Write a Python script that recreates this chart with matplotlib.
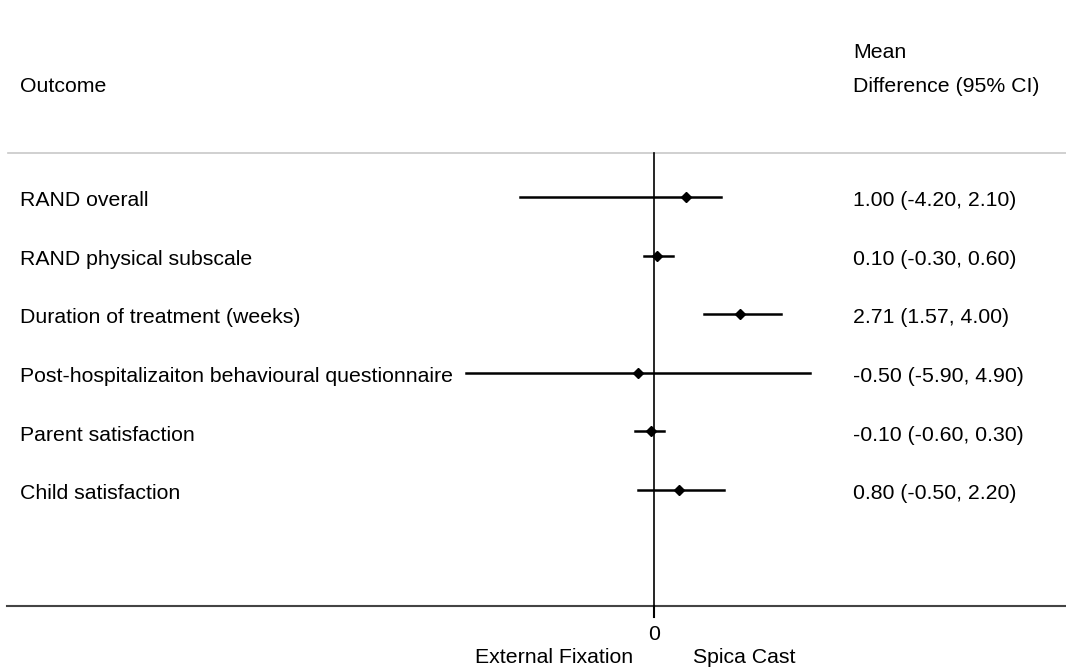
import matplotlib.pyplot as plt
import matplotlib.transforms as mtransforms

plt.rcParams['font.family'] = ['Liberation Sans', 'DejaVu Sans']

outcomes = ['RAND overall', 'RAND physical subscale', 'Duration of treatment (weeks)',
            'Post-hospitalizaiton behavioural questionnaire', 'Parent satisfaction',
            'Child satisfaction']
md = [1.00, 0.10, 2.71, -0.50, -0.10, 0.80]
lo = [-4.20, -0.30, 1.57, -5.90, -0.60, -0.50]
hi = [2.10, 0.60, 4.00, 4.90, 0.30, 2.20]

W, H = 1066, 669
fig = plt.figure(figsize=(W / 100, H / 100), dpi=100)
ax = fig.add_axes([0, 0, 1, 1])
ax.set_axis_off()

# x in effect units (0 at px 654, ~31.8 px per unit), y in pixels from top
scale = 31.8
x0 = 654
ax.set_xlim(-x0 / scale, (W - x0) / scale)
ax.set_ylim(H, 0)

row_y = [197 + i * 58.6 for i in range(len(outcomes))]
fs = 15.3
base = 9.2  # baseline offset below row centre

left = mtransforms.blended_transform_factory(fig.transFigure, ax.transData)
xl = 20 / W
xr = 853 / W

# header
ax.text(xr, 58, 'Mean', transform=left, fontsize=fs, va='baseline', ha='left')
ax.text(xl, 92, 'Outcome', transform=left, fontsize=fs, va='baseline', ha='left')
ax.text(xr, 92, 'Difference (95% CI)', transform=left, fontsize=fs, va='baseline', ha='left')

# separators
ax.plot([8 / W, 1], [153, 153], transform=left, color='#c8c8c8', lw=1.2, clip_on=False)
ax.plot([7 / W, 1], [606, 606], transform=left, color='#444444', lw=1.5, clip_on=False)

# null line and tick
ax.plot([0, 0], [153, 606], color='black', lw=1.2)
ax.plot([0, 0], [606, 617], color='black', lw=1.5)
ax.text(0, 640.5, '0', fontsize=fs, ha='center', va='baseline')
ax.text(-0.66, 663, 'External Fixation', fontsize=fs, ha='right', va='baseline')
ax.text(1.23, 663, 'Spica Cast', fontsize=fs, ha='left', va='baseline')

for i, name in enumerate(outcomes):
    y = row_y[i]
    ax.text(xl, y + base, name, transform=left, fontsize=fs, va='baseline', ha='left',
            bbox=dict(facecolor='white', edgecolor='none', pad=1), zorder=3)
    ax.plot([lo[i], hi[i]], [y, y], color='black', lw=1.8, zorder=2)
    ax.plot(md[i], y, marker='D', color='black', markersize=5, zorder=4)
    ax.text(xr, y + base, '%.2f (%.2f, %.2f)' % (md[i], lo[i], hi[i]), transform=left,
            fontsize=fs, va='baseline', ha='left')

fig.savefig('out.png', dpi=100)
